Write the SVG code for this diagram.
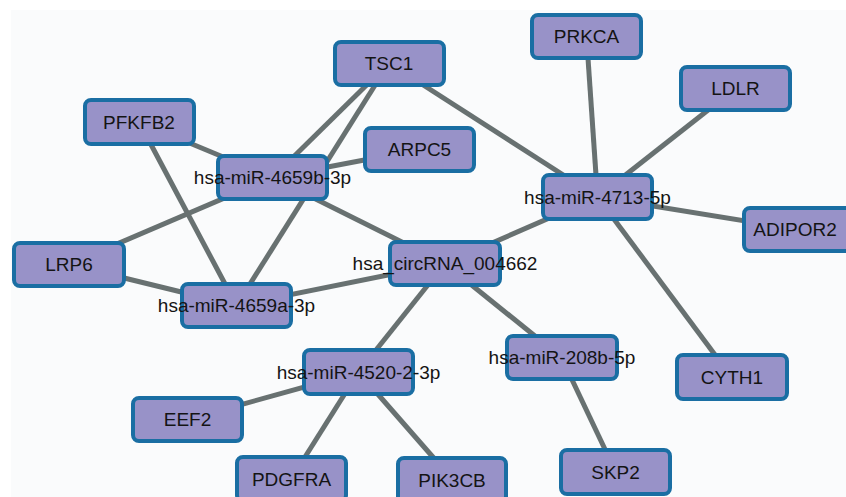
<svg xmlns="http://www.w3.org/2000/svg" width="846" height="497" viewBox="0 0 846 497">
<style>
.n rect{fill:#9892c8;stroke:#1a6ea3;stroke-width:4}
.n text{font-family:"Liberation Sans",Arial,sans-serif;font-size:19px;fill:#141414;text-anchor:middle}
.e line{stroke:#687171;stroke-width:5;stroke-linecap:butt}
</style>
<rect x="0" y="0" width="846" height="497" fill="#ffffff"/>
<rect x="11" y="10" width="835" height="487" fill="#fafbfc"/>
<g id="edges" class="e">
<line x1="389" y1="63" x2="272.5" y2="177.5"/>
<line x1="389" y1="63" x2="236.5" y2="305.5"/>
<line x1="389" y1="63" x2="597.5" y2="197"/>
<line x1="139" y1="122" x2="272.5" y2="177.5"/>
<line x1="139" y1="122" x2="236.5" y2="305.5"/>
<line x1="419.5" y1="149.5" x2="272.5" y2="177.5"/>
<line x1="69" y1="264.5" x2="272.5" y2="177.5"/>
<line x1="69" y1="264.5" x2="236.5" y2="305.5"/>
<line x1="272.5" y1="177.5" x2="445" y2="263.5"/>
<line x1="236.5" y1="305.5" x2="445" y2="263.5"/>
<line x1="445" y1="263.5" x2="597.5" y2="197"/>
<line x1="445" y1="263.5" x2="358.5" y2="372"/>
<line x1="445" y1="263.5" x2="561.5" y2="357.5"/>
<line x1="597.5" y1="197" x2="586.5" y2="36.5"/>
<line x1="597.5" y1="197" x2="735.5" y2="88.5"/>
<line x1="597.5" y1="197" x2="798" y2="229.5"/>
<line x1="597.5" y1="197" x2="731.5" y2="377"/>
<line x1="358.5" y1="372" x2="187.5" y2="419.5"/>
<line x1="358.5" y1="372" x2="291.5" y2="478.5"/>
<line x1="358.5" y1="372" x2="452.5" y2="479.5"/>
<line x1="561.5" y1="357.5" x2="615.5" y2="471.5"/>
</g>
<g id="TSC1" class="n"><rect x="335" y="42" width="109" height="43" rx="6"/><text x="389" y="70">TSC1</text></g>
<g id="PRKCA" class="n"><rect x="532" y="15" width="109" height="43" rx="6"/><text x="586.5" y="43">PRKCA</text></g>
<g id="LDLR" class="n"><rect x="681" y="67" width="109" height="43" rx="6"/><text x="735.5" y="95">LDLR</text></g>
<g id="PFKFB2" class="n"><rect x="85" y="100" width="109" height="44" rx="6"/><text x="139" y="129">PFKFB2</text></g>
<g id="ARPC5" class="n"><rect x="365" y="128" width="109" height="43" rx="6"/><text x="419.5" y="156">ARPC5</text></g>
<g id="hsa-miR-4659b-3p" class="n"><rect x="218" y="156" width="109" height="43" rx="6"/><text x="272.5" y="184">hsa-miR-4659b-3p</text></g>
<g id="hsa-miR-4713-5p" class="n"><rect x="543" y="175" width="109" height="44" rx="6"/><text x="597.5" y="204">hsa-miR-4713-5p</text></g>
<g id="ADIPOR2" class="n"><rect x="744" y="208" width="109" height="43" rx="6"/><text x="795" y="236">ADIPOR2</text></g>
<g id="LRP6" class="n"><rect x="14" y="243" width="110" height="43" rx="6"/><text x="69" y="271">LRP6</text></g>
<g id="hsa-miR-4659a-3p" class="n"><rect x="182" y="284" width="109" height="43" rx="6"/><text x="236.5" y="312">hsa-miR-4659a-3p</text></g>
<g id="hsa_circRNA_004662" class="n"><rect x="390" y="242" width="110" height="43" rx="6"/><text x="445" y="270">hsa_circRNA_004662</text></g>
<g id="hsa-miR-4520-2-3p" class="n"><rect x="304" y="350" width="109" height="44" rx="6"/><text x="358.5" y="379">hsa-miR-4520-2-3p</text></g>
<g id="hsa-miR-208b-5p" class="n"><rect x="507" y="336" width="110" height="43" rx="6"/><text x="562" y="364">hsa-miR-208b-5p</text></g>
<g id="CYTH1" class="n"><rect x="677" y="355" width="110" height="44" rx="6"/><text x="732" y="384">CYTH1</text></g>
<g id="EEF2" class="n"><rect x="133" y="398" width="109" height="43" rx="6"/><text x="187.5" y="426">EEF2</text></g>
<g id="SKP2" class="n"><rect x="561" y="450" width="109" height="44" rx="6"/><text x="615.5" y="479">SKP2</text></g>
<g id="PDGFRA" class="n"><rect x="237" y="457" width="109" height="44" rx="6"/><text x="291.5" y="486">PDGFRA</text></g>
<g id="PIK3CB" class="n"><rect x="398" y="458" width="108" height="44" rx="6"/><text x="452" y="487">PIK3CB</text></g>
</svg>
